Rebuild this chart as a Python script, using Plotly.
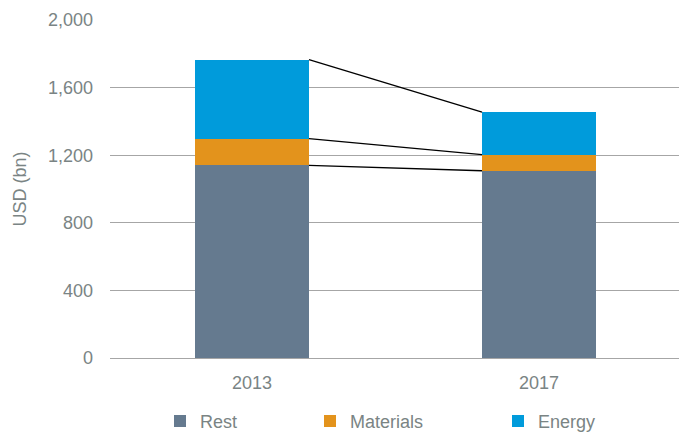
import plotly.graph_objects as go

# Spending by segment, USD bn
years = ["2013", "2017"]
rest = [1140, 1108]
materials = [158, 95]
energy = [468, 252]

series = [
    ("Rest", rest, "#657a8f", "legend"),
    ("Materials", materials, "#e3931c", "legend2"),
    ("Energy", energy, "#009bdb", "legend3"),
]

x_pos = list(range(len(years)))
bar_w = 0.397
text_col = "#7a8484"
font_fam = "Liberation Sans, Arial, sans-serif"

fig = go.Figure()
for name, vals, col, lg in series:
    fig.add_trace(go.Bar(
        x=x_pos, y=vals, name=name, width=bar_w,
        marker=dict(color=col, line=dict(width=0)),
        legend=lg,
    ))

# connector lines between the top of each stacked segment
cum = [0, 0]
for name, vals, col, lg in series:
    cum = [c + v for c, v in zip(cum, vals)]
    fig.add_trace(go.Scatter(
        x=[x_pos[0] + bar_w / 2, x_pos[1] - bar_w / 2],
        y=list(cum), mode="lines",
        line=dict(color="black", width=1.3),
        showlegend=False, hoverinfo="skip",
    ))

leg_common = dict(
    orientation="h", yanchor="middle", y=-0.187, xanchor="left",
    font=dict(size=18, color=text_col, family=font_fam),
    bgcolor="rgba(0,0,0,0)", itemwidth=30,
)

fig.update_layout(
    width=679, height=432,
    margin=dict(l=110, r=0, t=20, b=74, autoexpand=False),
    barmode="stack",
    plot_bgcolor="white", paper_bgcolor="white",
    font=dict(family=font_fam, size=18, color=text_col),
    xaxis=dict(
        range=[-0.4948, 1.4878], tickmode="array", tickvals=x_pos, ticktext=years,
        showgrid=False, zeroline=False, showline=False, ticks="",
        tickfont=dict(size=18, color=text_col), ticklabelstandoff=12,
    ),
    yaxis=dict(
        range=[0, 2000], tickvals=[0, 400, 800, 1200, 1600, 2000],
        tickformat=",", showgrid=True, gridcolor="#a6a6a6", gridwidth=1.3,
        zeroline=True, zerolinecolor="#a6a6a6", zerolinewidth=1.3,
        showline=False, ticks="", ticklabelstandoff=16,
        tickfont=dict(size=18, color=text_col),
        title=dict(text="USD (bn)", font=dict(size=18, color=text_col), standoff=16),
    ),
    legend=dict(x=(160 - 110) / 569, **leg_common),
    legend2=dict(x=(310 - 110) / 569, **leg_common),
    legend3=dict(x=(498 - 110) / 569, **leg_common),
)

fig.write_html("out.html")
